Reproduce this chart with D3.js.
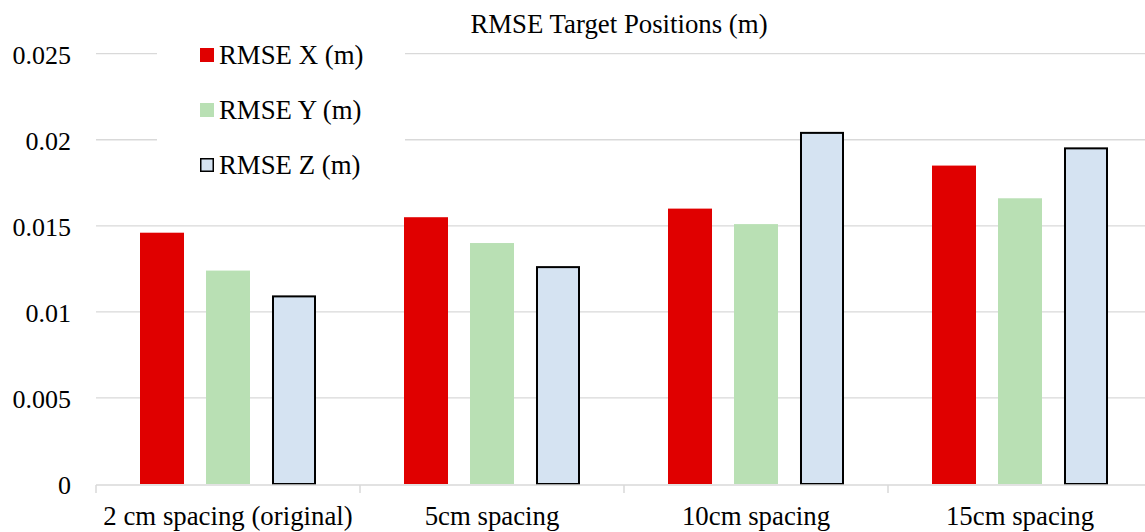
<!DOCTYPE html>
<html>
<head>
<meta charset="utf-8">
<script src="https://cdn.jsdelivr.net/npm/d3@7"></script>
<style>
  html, body { margin: 0; padding: 0; background: #fff; }
  svg, svg text { font-family: "Liberation Serif", "Times New Roman", Tinos, "DejaVu Serif", serif !important; }
</style>
</head>
<body>
<svg id="chart" width="1145" height="532"></svg>
<script>
// Spacing configurations along the x axis
const categories = ["2 cm spacing (original)", "5cm spacing", "10cm spacing", "15cm spacing"];
// RMSE per axis, metres
const seriesNames = ["RMSE X (m)", "RMSE Y (m)", "RMSE Z (m)"];
const rmseX = [0.0146, 0.0155, 0.0160, 0.0185];
const rmseY = [0.0124, 0.0140, 0.0151, 0.0166];
const rmseZ = [0.0109, 0.0126, 0.0204, 0.0195];
const yTicks = [0, 0.005, 0.01, 0.015, 0.02, 0.025];
const yTickLabels = ["0", "0.005", "0.01", "0.015", "0.02", "0.025"];

const seriesValues = [rmseX, rmseY, rmseZ];
const fills = ["#E00000", "#B9E0B4", "#D5E3F2"];
const strokes = ["none", "none", "#000"];

const svg = d3.select("#chart");
const fontSize = 26.8;
const tickFontSize = 26;
const plot = { left: 96, right: 1152, top: 53.7, bottom: 484 };

const x0 = d3.scaleBand().domain(categories).range([plot.left, plot.right]).paddingInner(0).paddingOuter(0);
const x1 = d3.scaleBand().domain(seriesNames)
  .range([0, x0.bandwidth()]).paddingInner(0.3333).paddingOuter(0.6667);
const y = d3.scaleLinear().domain([0, 0.025]).range([plot.bottom, plot.top]);

// Horizontal gridlines
svg.append("g").selectAll("line").data(yTicks.filter(d => d > 0)).join("line")
  .attr("x1", plot.left).attr("x2", plot.right)
  .attr("y1", d => y(d)).attr("y2", d => y(d))
  .attr("stroke", "#D9D9D9").attr("stroke-width", 1.3);

// Y axis labels
const yAxis = d3.axisLeft(y).tickValues(yTicks)
  .tickFormat((d, i) => yTickLabels[i]).tickSize(0).tickPadding(0);
svg.append("g").attr("transform", "translate(71,0)").call(yAxis)
  .call(g => g.select(".domain").remove())
  .call(g => g.selectAll("text")
    .attr("font-size", tickFontSize).attr("fill", "#000").attr("dy", "0.36em"));

// Bars
const groups = svg.append("g").selectAll("g").data(categories).join("g")
  .attr("transform", d => `translate(${x0(d)},0)`);
groups.selectAll("rect")
  .data((c, ci) => seriesNames.map((s, si) => ({ s, si, v: seriesValues[si][ci] })))
  .join("rect")
  .attr("x", d => x1(d.s) + (d.si === 2 ? 1 : 0))
  .attr("width", d => x1.bandwidth() - (d.si === 2 ? 2 : 0))
  .attr("y", d => y(d.v))
  .attr("height", d => y(0) - y(d.v))
  .attr("fill", d => fills[d.si])
  .attr("stroke", d => strokes[d.si])
  .attr("stroke-width", 2);

// X axis
const xAxis = d3.axisBottom(x0).tickSize(0).tickPadding(0);
const xg = svg.append("g").attr("transform", `translate(0,${plot.bottom})`).call(xAxis);
xg.select(".domain").remove();
xg.selectAll("text")
  .attr("font-size", fontSize).attr("fill", "#000")
  .attr("y", 41).attr("dy", 0);
svg.append("line")
  .attr("x1", plot.left).attr("x2", plot.right)
  .attr("y1", plot.bottom + 1).attr("y2", plot.bottom + 1)
  .attr("stroke", "#D9D9D9").attr("stroke-width", 1.5);
const boundaries = categories.map(c => x0(c));
svg.append("g").selectAll("line").data(boundaries).join("line")
  .attr("x1", d => d).attr("x2", d => d)
  .attr("y1", plot.bottom + 1).attr("y2", plot.bottom + 9)
  .attr("stroke", "#D9D9D9").attr("stroke-width", 1.5);

// Title
svg.append("text")
  .attr("x", 619).attr("y", 33).attr("text-anchor", "middle")
  .attr("font-size", fontSize).attr("fill", "#000")
  .text("RMSE Target Positions (m)");

// Legend with white backing
const legend = svg.append("g");
legend.append("rect").attr("x", 157).attr("y", 28).attr("width", 248).attr("height", 170).attr("fill", "#fff");
const items = legend.selectAll("g").data(seriesNames).join("g")
  .attr("transform", (d, i) => `translate(200,${55 + i * 55})`);
items.append("rect")
  .attr("x", (d, i) => i === 2 ? 0.75 : 0)
  .attr("y", (d, i) => i === 2 ? -6.25 : -7)
  .attr("width", (d, i) => i === 2 ? 12.5 : 14)
  .attr("height", (d, i) => i === 2 ? 12.5 : 14)
  .attr("fill", (d, i) => fills[i])
  .attr("stroke", (d, i) => strokes[i]).attr("stroke-width", 1.5);
items.append("text")
  .attr("x", 19).attr("y", 8.5)
  .attr("font-size", fontSize).attr("fill", "#000")
  .text(d => d);
</script>
</body>
</html>
